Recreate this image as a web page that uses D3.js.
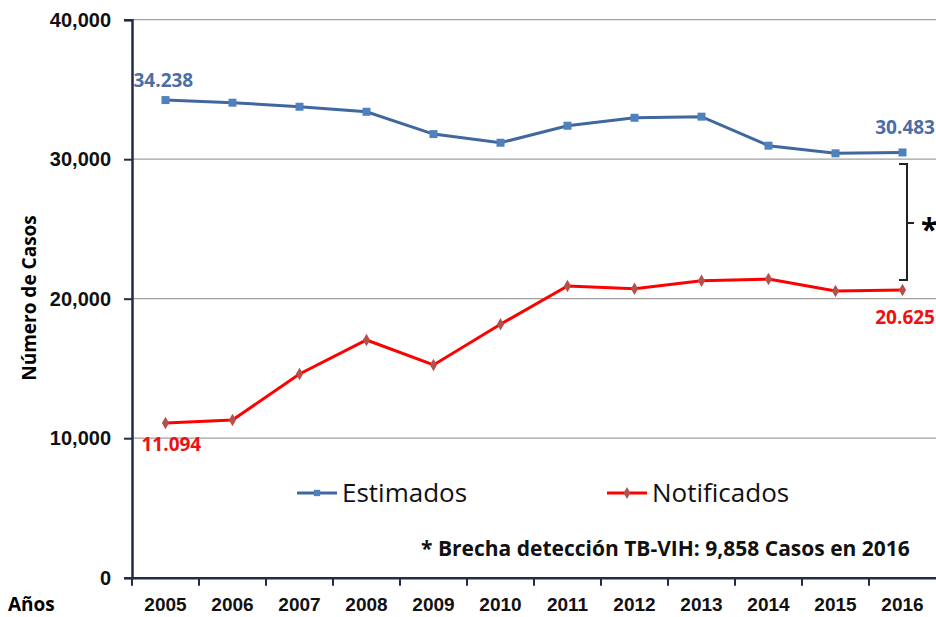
<!DOCTYPE html>
<html>
<head>
    <meta charset="utf-8">
    <title>TB-VIH casos estimados y notificados</title>
    <script type="text/javascript" src="https://d3js.org/d3.v7.min.js"></script>
    <style>
        body { margin: 0; background: #fff; }
        svg { font-family: "Open Sans", Lato, sans-serif; }
    </style>
</head>
<body>
    <div id="div-svg"></div>

    <script type="text/javascript">
        // Data
        let years = ["2005", "2006", "2007", "2008", "2009", "2010", "2011", "2012", "2013", "2014", "2015", "2016"];
        let estimados = [34238, 34050, 33760, 33400, 31800, 31180, 32400, 32970, 33050, 30970, 30420, 30483];
        let notificados = [11094, 11300, 14600, 17040, 15250, 18170, 20910, 20720, 21290, 21410, 20550, 20625];
        let yTicks = [0, 10000, 20000, 30000, 40000];

        let width = 936;
        let height = 617;
        let plotLeft = 132, plotRight = 936, plotTop = 19.7, plotBottom = 577.7;

        let svg = d3.select("#div-svg")
            .append("svg")
            .attr("id", "svg-1")
            .attr("width", width)
            .attr("height", height);

        // scales
        let xScale = d3.scaleBand()
            .domain(years)
            .range([plotLeft, plotRight]);

        let yScale = d3.scaleLinear()
            .domain([0, 40000])
            .range([plotBottom, plotTop]);

        let cx = function (d, i) { return xScale(years[i]) + xScale.bandwidth() / 2; };

        // gridlines
        svg.append("g")
            .selectAll("line")
            .data(yTicks.filter(function (d) { return d > 0; }))
            .enter()
            .append("line")
            .attr("x1", plotLeft)
            .attr("x2", plotRight)
            .attr("y1", function (d) { return yScale(d); })
            .attr("y2", function (d) { return yScale(d); })
            .attr("stroke", "#a0a0a0")
            .attr("stroke-width", 1.2);

        // axes
        let yAxis = d3.axisLeft(yScale)
            .tickValues(yTicks)
            .tickSize(8)
            .tickPadding(13)
            .tickFormat(d3.format(","));

        let yG = svg.append("g")
            .attr("transform", "translate(" + plotLeft + ",0)")
            .call(yAxis);
        yG.select(".domain").attr("stroke", "#1f2d4a").attr("stroke-width", 2.5);
        yG.selectAll(".tick line").attr("stroke", "#1f2d4a").attr("stroke-width", 2);
        yG.selectAll(".tick text")
            .attr("font-size", 20)
            .attr("font-weight", "bold")
            .attr("fill", "#111");

        let xAxis = d3.axisBottom(xScale)
            .tickSize(0)
            .tickPadding(20);

        let xG = svg.append("g")
            .attr("transform", "translate(0," + plotBottom + ")")
            .call(xAxis);
        xG.select(".domain").attr("stroke", "#1f2d4a").attr("stroke-width", 2.5);
        xG.selectAll(".tick text")
            .attr("font-size", 19)
            .attr("font-weight", "bold")
            .attr("fill", "#111");

        // tick marks between categories
        xG.selectAll(".sep")
            .data(years)
            .enter()
            .append("line")
            .attr("x1", function (d) { return xScale(d); })
            .attr("x2", function (d) { return xScale(d); })
            .attr("y1", 0)
            .attr("y2", 8)
            .attr("stroke", "#1f2d4a")
            .attr("stroke-width", 2);

        // axis titles
        svg.append("text")
            .attr("transform", "rotate(-90)")
            .attr("x", -298)
            .attr("y", 36)
            .attr("font-size", 19)
            .attr("font-weight", "bold")
            .style("text-anchor", "middle")
            .text("Número de Casos");

        svg.append("text")
            .attr("x", 8)
            .attr("y", 611)
            .attr("font-size", 19)
            .attr("font-weight", "bold")
            .text("Años");

        // lines
        let line = d3.line()
            .x(cx)
            .y(function (d) { return yScale(d); });

        svg.append("path")
            .datum(estimados)
            .attr("d", line)
            .attr("fill", "none")
            .attr("stroke", "#41679f")
            .attr("stroke-width", 3);

        svg.append("g")
            .selectAll("rect")
            .data(estimados)
            .enter()
            .append("rect")
            .attr("x", function (d, i) { return cx(d, i) - 4; })
            .attr("y", function (d) { return yScale(d) - 4; })
            .attr("width", 8)
            .attr("height", 8)
            .attr("fill", "#4f81bd");

        svg.append("path")
            .datum(notificados)
            .attr("d", line)
            .attr("fill", "none")
            .attr("stroke", "#ff0000")
            .attr("stroke-width", 3);

        svg.append("g")
            .selectAll("path")
            .data(notificados)
            .enter()
            .append("path")
            .attr("d", d3.symbol().type(d3.symbolDiamond).size(45))
            .attr("transform", function (d, i) { return "translate(" + cx(d, i) + "," + yScale(d) + ")"; })
            .attr("fill", "#b5504d");

        // value labels
        let fmt = function (v) { return d3.format(",")(v).replace(",", "."); };
        let n = years.length - 1;

        svg.append("text")
            .attr("x", cx(0, 0) - 32)
            .attr("y", yScale(estimados[0]) - 13)
            .attr("font-size", 19)
            .attr("font-weight", "bold")
            .attr("fill", "#4a6ea5")
            .text(fmt(estimados[0]));

        svg.append("text")
            .attr("x", 935)
            .attr("y", yScale(estimados[n]) - 18)
            .attr("font-size", 19)
            .attr("font-weight", "bold")
            .attr("fill", "#4a6ea5")
            .style("text-anchor", "end")
            .text(fmt(estimados[n]));

        svg.append("text")
            .attr("x", cx(0, 0) - 24)
            .attr("y", yScale(notificados[0]) + 28)
            .attr("font-size", 19)
            .attr("font-weight", "bold")
            .attr("fill", "#ee1111")
            .text(fmt(notificados[0]));

        svg.append("text")
            .attr("x", 935)
            .attr("y", yScale(notificados[n]) + 34)
            .attr("font-size", 19)
            .attr("font-weight", "bold")
            .attr("fill", "#ee1111")
            .style("text-anchor", "end")
            .text(fmt(notificados[n]));

        // bracket for the gap
        let bx = 903;
        svg.append("path")
            .attr("d", "M" + (bx - 4) + "," + 164 + " H" + (bx + 4) + " V280 H" + (bx - 4)
                + " M" + (bx + 4) + ",223 H" + (bx + 11))
            .attr("fill", "none")
            .attr("stroke", "#222")
            .attr("stroke-width", 2);

        svg.append("text")
            .attr("x", 921)
            .attr("y", 240)
            .attr("font-size", 30)
            .attr("font-weight", "bold")
            .text("*");

        // legend
        let legend = [
            { name: "Estimados", x: 297, color: "#41679f", marker: "#4f81bd", shape: d3.symbolSquare },
            { name: "Notificados", x: 607, color: "#ff0000", marker: "#b5504d", shape: d3.symbolDiamond }
        ];
        let lg = svg.append("g")
            .selectAll("g")
            .data(legend)
            .enter()
            .append("g")
            .attr("transform", function (d) { return "translate(" + d.x + ",493)"; });
        lg.append("line")
            .attr("x1", 0).attr("x2", 40)
            .attr("stroke", function (d) { return d.color; })
            .attr("stroke-width", 3);
        lg.append("path")
            .attr("d", function (d) { return d3.symbol().type(d.shape).size(40)(); })
            .attr("transform", "translate(20,0)")
            .attr("fill", function (d) { return d.marker; });
        lg.append("text")
            .attr("x", 45)
            .attr("y", 9)
            .attr("font-size", 26)
            .attr("fill", "#111")
            .text(function (d) { return d.name; });

        // note
        svg.append("text")
            .attr("x", 421)
            .attr("y", 556)
            .attr("font-size", 21)
            .attr("font-weight", "bold")
            .attr("fill", "#111")
            .text("* Brecha detección TB-VIH: 9,858 Casos en 2016");
    </script>
</body>
</html>
